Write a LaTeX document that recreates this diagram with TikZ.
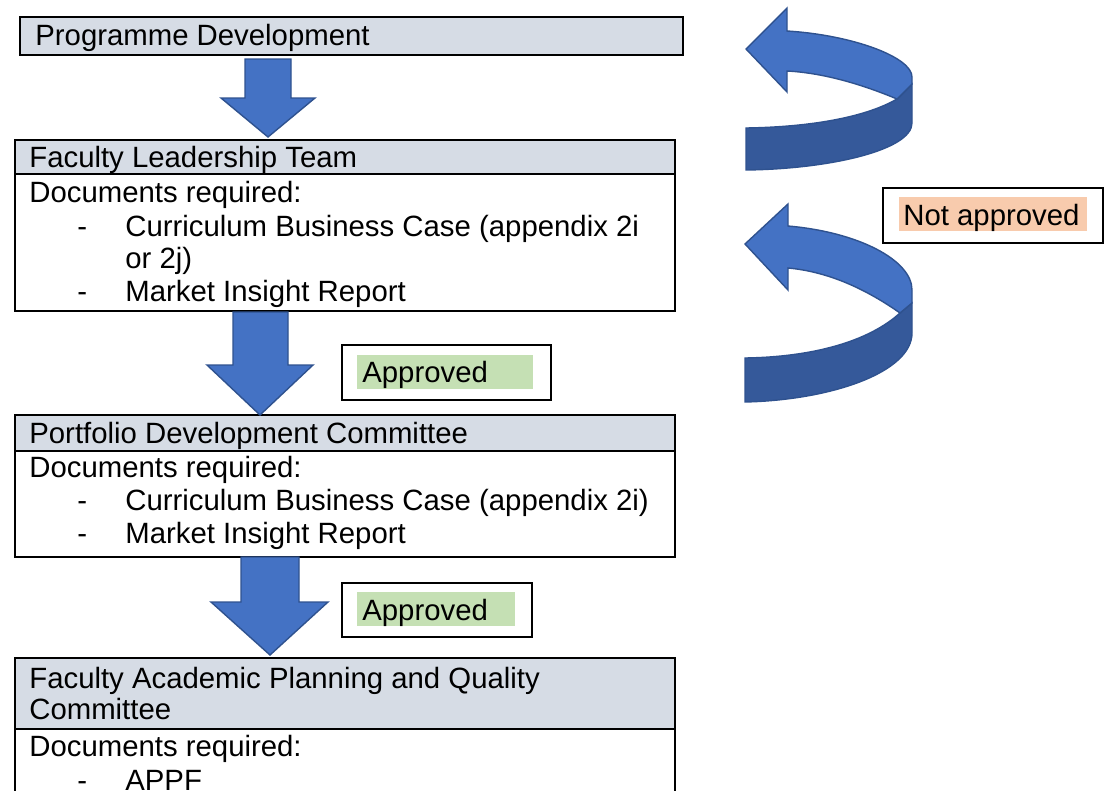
\documentclass[tikz,border=0pt]{standalone}
\usepackage{fontspec}
\setmainfont{Liberation Sans}
\usetikzlibrary{positioning}

\definecolor{hdrgray}{HTML}{D6DCE5}
\definecolor{arrowblue}{HTML}{4472C4}
\definecolor{arrowdark}{HTML}{35599A}
\definecolor{arrowedge}{HTML}{2F528F}
\definecolor{okgreen}{HTML}{C5E0B4}
\definecolor{noorange}{HTML}{F8CBAD}

\def\pxu{0.02cm}

\begin{document}
\begin{tikzpicture}[
		x=0.02cm, y=-0.02cm,
		font=\fontsize{16.7}{20}\selectfont,
		% Box styles
		boxsize/.style 2 args={minimum width=#1*\pxu, minimum height=#2*\pxu},
		hdrbox/.style={draw=black, line width=1pt, fill=hdrgray, anchor=north west, inner sep=0pt},
		bodybox/.style={draw=black, line width=1pt, fill=white, anchor=north west, inner sep=0pt},
		txt/.style={anchor=base west, inner sep=0pt},
		% Decision tag styles
		tagbox/.style={draw=black, line width=1pt, fill=white, anchor=north west, inner sep=0pt},
		taghl/.style={fill=#1, anchor=north west, inner sep=0pt},
		% Block arrow styles
		blockarrow/.style={fill=arrowblue, draw=arrowedge, line width=0.8pt, line join=miter},
		blockshade/.style={fill=arrowdark, draw=arrowedge, line width=0.8pt}
		]
		
		\useasboundingbox (0,0) rectangle (1109,791);
		\clip (0,0) rectangle (1109,791);
		
		% --- STAGE 1: PROGRAMME DEVELOPMENT ---
		\node[hdrbox, boxsize={663}{38}] (pd) at (19,16) {};
		\node[txt] (pd_t) at (35,45) {Programme Development};
		
		% --- STAGE 2: FACULTY LEADERSHIP TEAM ---
		\node[bodybox, boxsize={660}{137}] (flt_b) at (14,173) {};
		\node[hdrbox, boxsize={660}{34}] (flt) at (14,139) {};
		\node[txt] (flt_t) at (29,167) {Faculty Leadership Team};
		\node[txt] (flt_d) at (29,202) {Documents required:};
		\node[txt] (flt_d1) at (77,236) {-};
		\node[txt] (flt_i1) at (125,236) {Curriculum Business Case (appendix 2i};
		\node[txt] (flt_i1b) at (125,268) {or 2j)};
		\node[txt] (flt_d2) at (77,301) {-};
		\node[txt] (flt_i2) at (125,301) {Market Insight Report};
		
		% --- STAGE 3: PORTFOLIO DEVELOPMENT COMMITTEE ---
		\node[bodybox, boxsize={660}{106}] (pdc_b) at (14,450) {};
		\node[hdrbox, boxsize={660}{36}] (pdc) at (14,414) {};
		\node[txt] (pdc_t) at (29,443) {Portfolio Development Committee};
		\node[txt] (pdc_d) at (29,477) {Documents required:};
		\node[txt] (pdc_d1) at (77,510) {-};
		\node[txt] (pdc_i1) at (125,510) {Curriculum Business Case (appendix 2i)};
		\node[txt] (pdc_d2) at (77,543) {-};
		\node[txt] (pdc_i2) at (125,543) {Market Insight Report};
		
		% --- STAGE 4: FACULTY ACADEMIC PLANNING AND QUALITY COMMITTEE ---
		\node[bodybox, boxsize={660}{100}] (fapq_b) at (14,728) {};
		\node[hdrbox, boxsize={660}{71}] (fapq) at (14,657) {};
		\node[txt] (fapq_t) at (29,688) {Faculty Academic Planning and Quality};
		\node[txt] (fapq_t2) at (29,719) {Committee};
		\node[txt] (fapq_d) at (29,756) {Documents required:};
		\node[txt] (fapq_d1) at (77,790) {-};
		\node[txt] (fapq_i1) at (125,790) {APPF};
		
		% Down arrows between stages
		\draw[blockarrow] (245,59) -- (291,59) -- (291,98) -- (315,98) -- (268,137)
		-- (221,98) -- (245,98) -- cycle;
		\draw[blockarrow] (233,312) -- (288,312) -- (288,365) -- (313,365) -- (260,415)
		-- (207,365) -- (233,365) -- cycle;
		\draw[blockarrow] (241,557) -- (299,557) -- (299,602) -- (328,602) -- (270,655)
		-- (211,602) -- (241,602) -- cycle;
		
		% Decision tags
		\node[tagbox, boxsize={209}{55}] (ok1) at (341,344) {};
		\node[taghl=okgreen, boxsize={176}{34}] (ok1_hl) at (357,355) {};
		\node[txt] (ok1_t) at (362,382) {Approved};
		
		\node[tagbox, boxsize={190}{54}] (ok2) at (341,582) {};
		\node[taghl=okgreen, boxsize={158}{34}] (ok2_hl) at (357,592) {};
		\node[txt] (ok2_t) at (362,620) {Approved};
		
		\node[tagbox, boxsize={220}{55}] (no) at (882,187) {};
		\node[taghl=noorange, boxsize={188}{34}] (no_hl) at (899,197) {};
		\node[txt] (no_t) at (903,225) {Not approved};
		
		% Return arrows (not approved)
		\draw[blockshade] (897,99) -- (912,84) -- (912,123)
		.. controls (912,150) and (830,169) .. (746,170) -- (746,128)
		.. controls (812,127) and (866,117) .. (897,99) -- cycle;
		\draw[blockarrow] (746,49) -- (787,8) -- (787,31)
		.. controls (852,35) and (912,57) .. (912,77) -- (912,84) -- (897,99)
		.. controls (866,86) and (826,73) .. (787,71) -- (787,92) -- cycle;
		
		\draw[blockshade] (900,313) -- (912,303) -- (912,333)
		.. controls (912,372) and (832,400) .. (745,402) -- (745,358)
		.. controls (812,357) and (868,342) .. (900,313) -- cycle;
		\draw[blockarrow] (745,244) -- (788,204) -- (788,226)
		.. controls (858,232) and (912,260) .. (912,290) -- (912,303) -- (900,313)
		.. controls (870,292) and (832,272) .. (788,268) -- (788,290) -- cycle;
		
	\end{tikzpicture}
\end{document}
